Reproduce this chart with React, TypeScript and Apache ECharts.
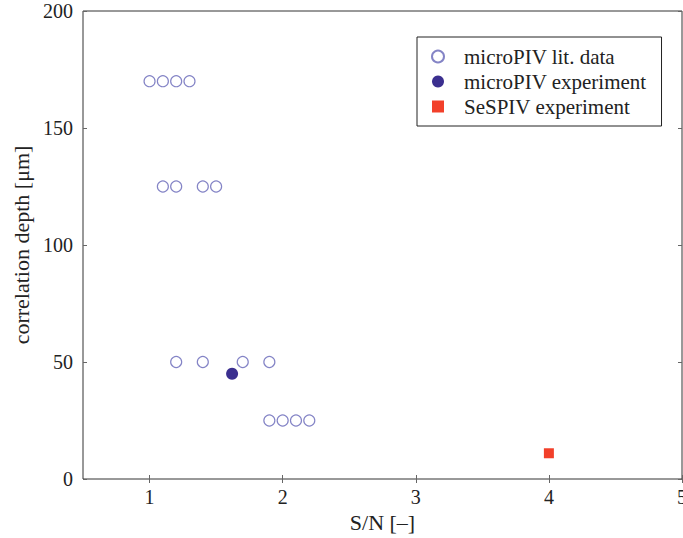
import React, { useEffect, useRef } from "react";
import * as echarts from "echarts";

const litX = [1.0, 1.1, 1.2, 1.3, 1.1, 1.2, 1.4, 1.5, 1.2, 1.4, 1.7, 1.9, 1.9, 2.0, 2.1, 2.2];
const litY = [170, 170, 170, 170, 125, 125, 125, 125, 50, 50, 50, 50, 25, 25, 25, 25];
const expX = [1.62];
const expY = [45];
const sesX = [4.0];
const sesY = [11];
const xTicks = [1, 2, 3, 4, 5];
const yTicks = [0, 50, 100, 150, 200];

const FONT = "Liberation Serif";

export default function App() {
  const ref = useRef<HTMLDivElement>(null);
  useEffect(() => {
    if (!ref.current) return;
    const chart = echarts.init(ref.current, null, { renderer: "svg" });
    const pairs = (xs: number[], ys: number[]) => xs.map((x, i) => [x, ys[i]]);
    const tickStyle = { lineStyle: { color: "#666", width: 1 } };
    chart.setOption({
      animation: false,
      backgroundColor: "#fff",
      grid: {
        left: 83,
        right: 1,
        top: 11,
        bottom: 59,
        outerBoundsMode: "none",
        containLabel: false,
        show: true,
        borderColor: "#333",
        borderWidth: 1,
        backgroundColor: "transparent",
      },
      legend: {
        orient: "vertical",
        left: 417,
        top: 37,
        borderColor: "#222",
        borderWidth: 1,
        padding: [9, 15, 9, 14],
        itemGap: 4,
        itemWidth: 12,
        itemHeight: 12,
        textStyle: {
          fontFamily: FONT,
          fontSize: 21,
          color: "#222",
          padding: [0, 0, 0, 15],
        },
        data: ["microPIV lit. data", "microPIV experiment", "SeSPIV experiment"],
      },
      xAxis: [
        {
          type: "value",
          min: 0.5,
          max: 5,
          name: "S/N [–]",
          nameLocation: "middle",
          nameGap: 30,
          nameTextStyle: { fontFamily: FONT, fontSize: 22, color: "#222" },
          axisLine: { show: false },
          splitLine: { show: false },
          axisTick: { show: true, inside: true, length: 4, customValues: xTicks, ...tickStyle },
          axisLabel: {
            customValues: xTicks,
            fontFamily: FONT,
            fontSize: 20,
            color: "#222",
            margin: 8,
          },
        },
        {
          type: "value",
          min: 0.5,
          max: 5,
          position: "top",
          axisLine: { show: false },
          splitLine: { show: false },
          axisTick: { show: true, inside: true, length: 4, customValues: xTicks, ...tickStyle },
          axisLabel: { show: false },
        },
      ],
      yAxis: [
        {
          type: "value",
          min: 0,
          max: 200,
          interval: 50,
          name: "correlation depth [μm]",
          nameLocation: "middle",
          nameRotate: 90,
          nameGap: 50,
          nameTextStyle: { fontFamily: FONT, fontSize: 22, color: "#222" },
          axisLine: { show: false },
          splitLine: { show: false },
          axisTick: { show: true, inside: true, length: 4, customValues: yTicks, ...tickStyle },
          axisLabel: {
            customValues: yTicks,
            fontFamily: FONT,
            fontSize: 20,
            color: "#222",
            margin: 10,
          },
        },
        {
          type: "value",
          min: 0,
          max: 200,
          interval: 50,
          position: "right",
          axisLine: { show: false },
          splitLine: { show: false },
          axisTick: { show: true, inside: true, length: 4, customValues: yTicks, ...tickStyle },
          axisLabel: { show: false },
        },
      ],
      series: [
        {
          name: "microPIV lit. data",
          type: "scatter",
          symbol: "circle",
          symbolSize: 11,
          itemStyle: { color: "#ffffff", borderColor: "#8484c6", borderWidth: 1.2, opacity: 1 },
          data: pairs(litX, litY),
        },
        {
          name: "microPIV experiment",
          type: "scatter",
          symbol: "circle",
          symbolSize: 12,
          itemStyle: { color: "#3b2f8f", opacity: 1 },
          data: pairs(expX, expY),
        },
        {
          name: "SeSPIV experiment",
          type: "scatter",
          symbol: "rect",
          symbolSize: 10,
          itemStyle: { color: "#f2402a", opacity: 1 },
          data: pairs(sesX, sesY),
        },
      ],
    });
    return () => chart.dispose();
  }, []);
  return (
    <div
      ref={ref}
      style={{ width: 683, height: 538, position: "absolute", left: 0, top: 0 }}
    />
  );
}
